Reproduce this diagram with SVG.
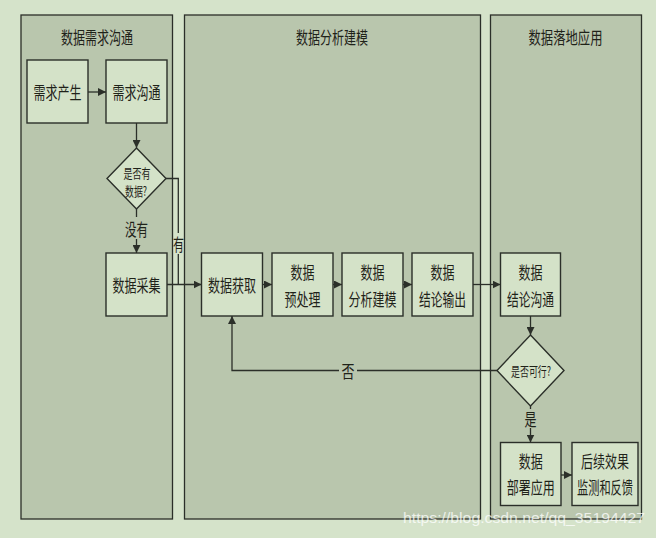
<svg xmlns="http://www.w3.org/2000/svg" width="656" height="538" viewBox="0 0 656 538">
<defs>
<style>
.lane{fill:#b9c6ad;stroke:#2b2f29;stroke-width:1.3}
.box{fill:#d4e2c8;stroke:#2b2f29;stroke-width:1.4}
.t{font-family:"Noto Sans CJK SC","Liberation Serif",serif;font-size:17px;fill:#1f2219;text-anchor:middle;dominant-baseline:central}
.s{font-size:13px}
.ln{fill:none;stroke:#2b2f29;stroke-width:1.3}
.lbl{font-family:"Noto Sans CJK SC","Liberation Serif",serif;font-size:17px;fill:#1f2219;text-anchor:middle;dominant-baseline:central}
</style>
<marker id="ah" viewBox="0 0 10 10" refX="10" refY="5" markerWidth="8" markerHeight="8" markerUnits="userSpaceOnUse" orient="auto">
<path d="M0,0 L10,5 L0,10 z" fill="#2b2f29"/>
</marker>
</defs>
<rect x="0" y="0" width="656" height="538" fill="#d5e3ca"/>
<g id="lane1"><rect class="lane" x="21" y="15" width="151.5" height="504"/><text class="t" x="97" y="36" textLength="72" lengthAdjust="spacingAndGlyphs">数据需求沟通</text></g>
<g id="lane2"><rect class="lane" x="184.5" y="15" width="296" height="504"/><text class="t" x="332" y="36" textLength="72" lengthAdjust="spacingAndGlyphs">数据分析建模</text></g>
<g id="lane3"><rect class="lane" x="490.5" y="15" width="151" height="504"/><text class="t" x="565.5" y="36" textLength="74" lengthAdjust="spacingAndGlyphs">数据落地应用</text></g>

<g id="connectors">
<line class="ln" x1="88" y1="92" x2="106" y2="92" marker-end="url(#ah)"/>
<line class="ln" x1="136.5" y1="123" x2="136.5" y2="148" marker-end="url(#ah)"/>
<line class="ln" x1="136.5" y1="209" x2="136.5" y2="217"/>
<line class="ln" x1="136.5" y1="239" x2="136.5" y2="253" marker-end="url(#ah)"/>
<polyline class="ln" points="166,178.5 178.3,178.5 178.3,233"/>
<line class="ln" x1="178.3" y1="254" x2="178.3" y2="284.5"/>
<line class="ln" x1="167" y1="284.5" x2="201.5" y2="284.5" marker-end="url(#ah)"/>
<line class="ln" x1="262.5" y1="284.5" x2="272" y2="284.5" marker-end="url(#ah)"/>
<line class="ln" x1="333" y1="284.5" x2="342" y2="284.5" marker-end="url(#ah)"/>
<line class="ln" x1="403" y1="284.5" x2="412" y2="284.5" marker-end="url(#ah)"/>
<line class="ln" x1="473" y1="284.5" x2="500.5" y2="284.5" marker-end="url(#ah)"/>
<line class="ln" x1="530.5" y1="316" x2="530.5" y2="335" marker-end="url(#ah)"/>
<polyline class="ln" points="497,370.5 357,370.5"/>
<polyline class="ln" points="339,370.5 232,370.5 232,316" marker-end="url(#ah)"/>
<line class="ln" x1="530.5" y1="406" x2="530.5" y2="409"/>
<line class="ln" x1="530.5" y1="428" x2="530.5" y2="442.5" marker-end="url(#ah)"/>
<line class="ln" x1="561" y1="475" x2="572" y2="475" marker-end="url(#ah)"/>
<text class="lbl" x="136.5" y="228" textLength="23" lengthAdjust="spacingAndGlyphs">没有</text>
<text class="lbl" x="178.5" y="243" textLength="11" lengthAdjust="spacingAndGlyphs">有</text>
<text class="lbl" x="348" y="370" textLength="13" lengthAdjust="spacingAndGlyphs">否</text>
<text class="lbl" x="530.5" y="418" textLength="12" lengthAdjust="spacingAndGlyphs">是</text>
</g>

<g id="n1"><rect class="box" x="27" y="60" width="61" height="63"/><text class="t" x="57.5" y="91.5" textLength="48" lengthAdjust="spacingAndGlyphs">需求产生</text></g>
<g id="n2"><rect class="box" x="106" y="60" width="61" height="63"/><text class="t" x="136.5" y="91.5" textLength="48" lengthAdjust="spacingAndGlyphs">需求沟通</text></g>
<g id="d1"><polygon class="box" points="136.5,148 166,178.5 136.5,209 107,178.5"/><text class="t s" x="137" y="172" textLength="27" lengthAdjust="spacingAndGlyphs">是否有</text><text class="t s" x="136" y="190" textLength="22" lengthAdjust="spacingAndGlyphs">数据?</text></g>
<g id="n3"><rect class="box" x="106" y="253" width="61" height="63"/><text class="t" x="136.5" y="284.5" textLength="48" lengthAdjust="spacingAndGlyphs">数据采集</text></g>
<g id="n4"><rect class="box" x="201.5" y="253" width="61" height="63"/><text class="t" x="232" y="284.5" textLength="48" lengthAdjust="spacingAndGlyphs">数据获取</text></g>
<g id="n5"><rect class="box" x="272" y="253" width="61" height="63"/><text class="t" x="302.5" y="271.5" textLength="24" lengthAdjust="spacingAndGlyphs">数据</text><text class="t" x="302.5" y="298" textLength="36" lengthAdjust="spacingAndGlyphs">预处理</text></g>
<g id="n6"><rect class="box" x="342" y="253" width="61" height="63"/><text class="t" x="372.5" y="271.5" textLength="24" lengthAdjust="spacingAndGlyphs">数据</text><text class="t" x="372.5" y="298" textLength="48" lengthAdjust="spacingAndGlyphs">分析建模</text></g>
<g id="n7"><rect class="box" x="412" y="253" width="61" height="63"/><text class="t" x="442.5" y="271.5" textLength="24" lengthAdjust="spacingAndGlyphs">数据</text><text class="t" x="442.5" y="298" textLength="47" lengthAdjust="spacingAndGlyphs">结论输出</text></g>
<g id="n8"><rect class="box" x="500.5" y="253" width="60" height="63"/><text class="t" x="530.5" y="271.5" textLength="24" lengthAdjust="spacingAndGlyphs">数据</text><text class="t" x="530.5" y="298" textLength="47" lengthAdjust="spacingAndGlyphs">结论沟通</text></g>
<g id="d2"><polygon class="box" points="530.5,335 564,370.5 530.5,406 497,370.5"/><text class="t s" x="531" y="370.5" textLength="40" lengthAdjust="spacingAndGlyphs">是否可行?</text></g>
<g id="n9"><rect class="box" x="500.5" y="442.5" width="60.5" height="63"/><text class="t" x="530.7" y="460" textLength="24" lengthAdjust="spacingAndGlyphs">数据</text><text class="t" x="530.7" y="486" textLength="48" lengthAdjust="spacingAndGlyphs">部署应用</text></g>
<g id="n10"><rect class="box" x="572" y="442.5" width="66" height="63"/><text class="t" x="605" y="460" textLength="48" lengthAdjust="spacingAndGlyphs">后续效果</text><text class="t" transform="translate(605 486) scale(0.66 1)" x="0" y="0">监测和反馈</text></g>

<text x="403" y="523" font-family="'Liberation Sans',Arial,sans-serif" font-size="15" fill="#ffffff" fill-opacity="0.75" textLength="242" lengthAdjust="spacingAndGlyphs">https://blog.csdn.net/qq_35194427</text>
</svg>
